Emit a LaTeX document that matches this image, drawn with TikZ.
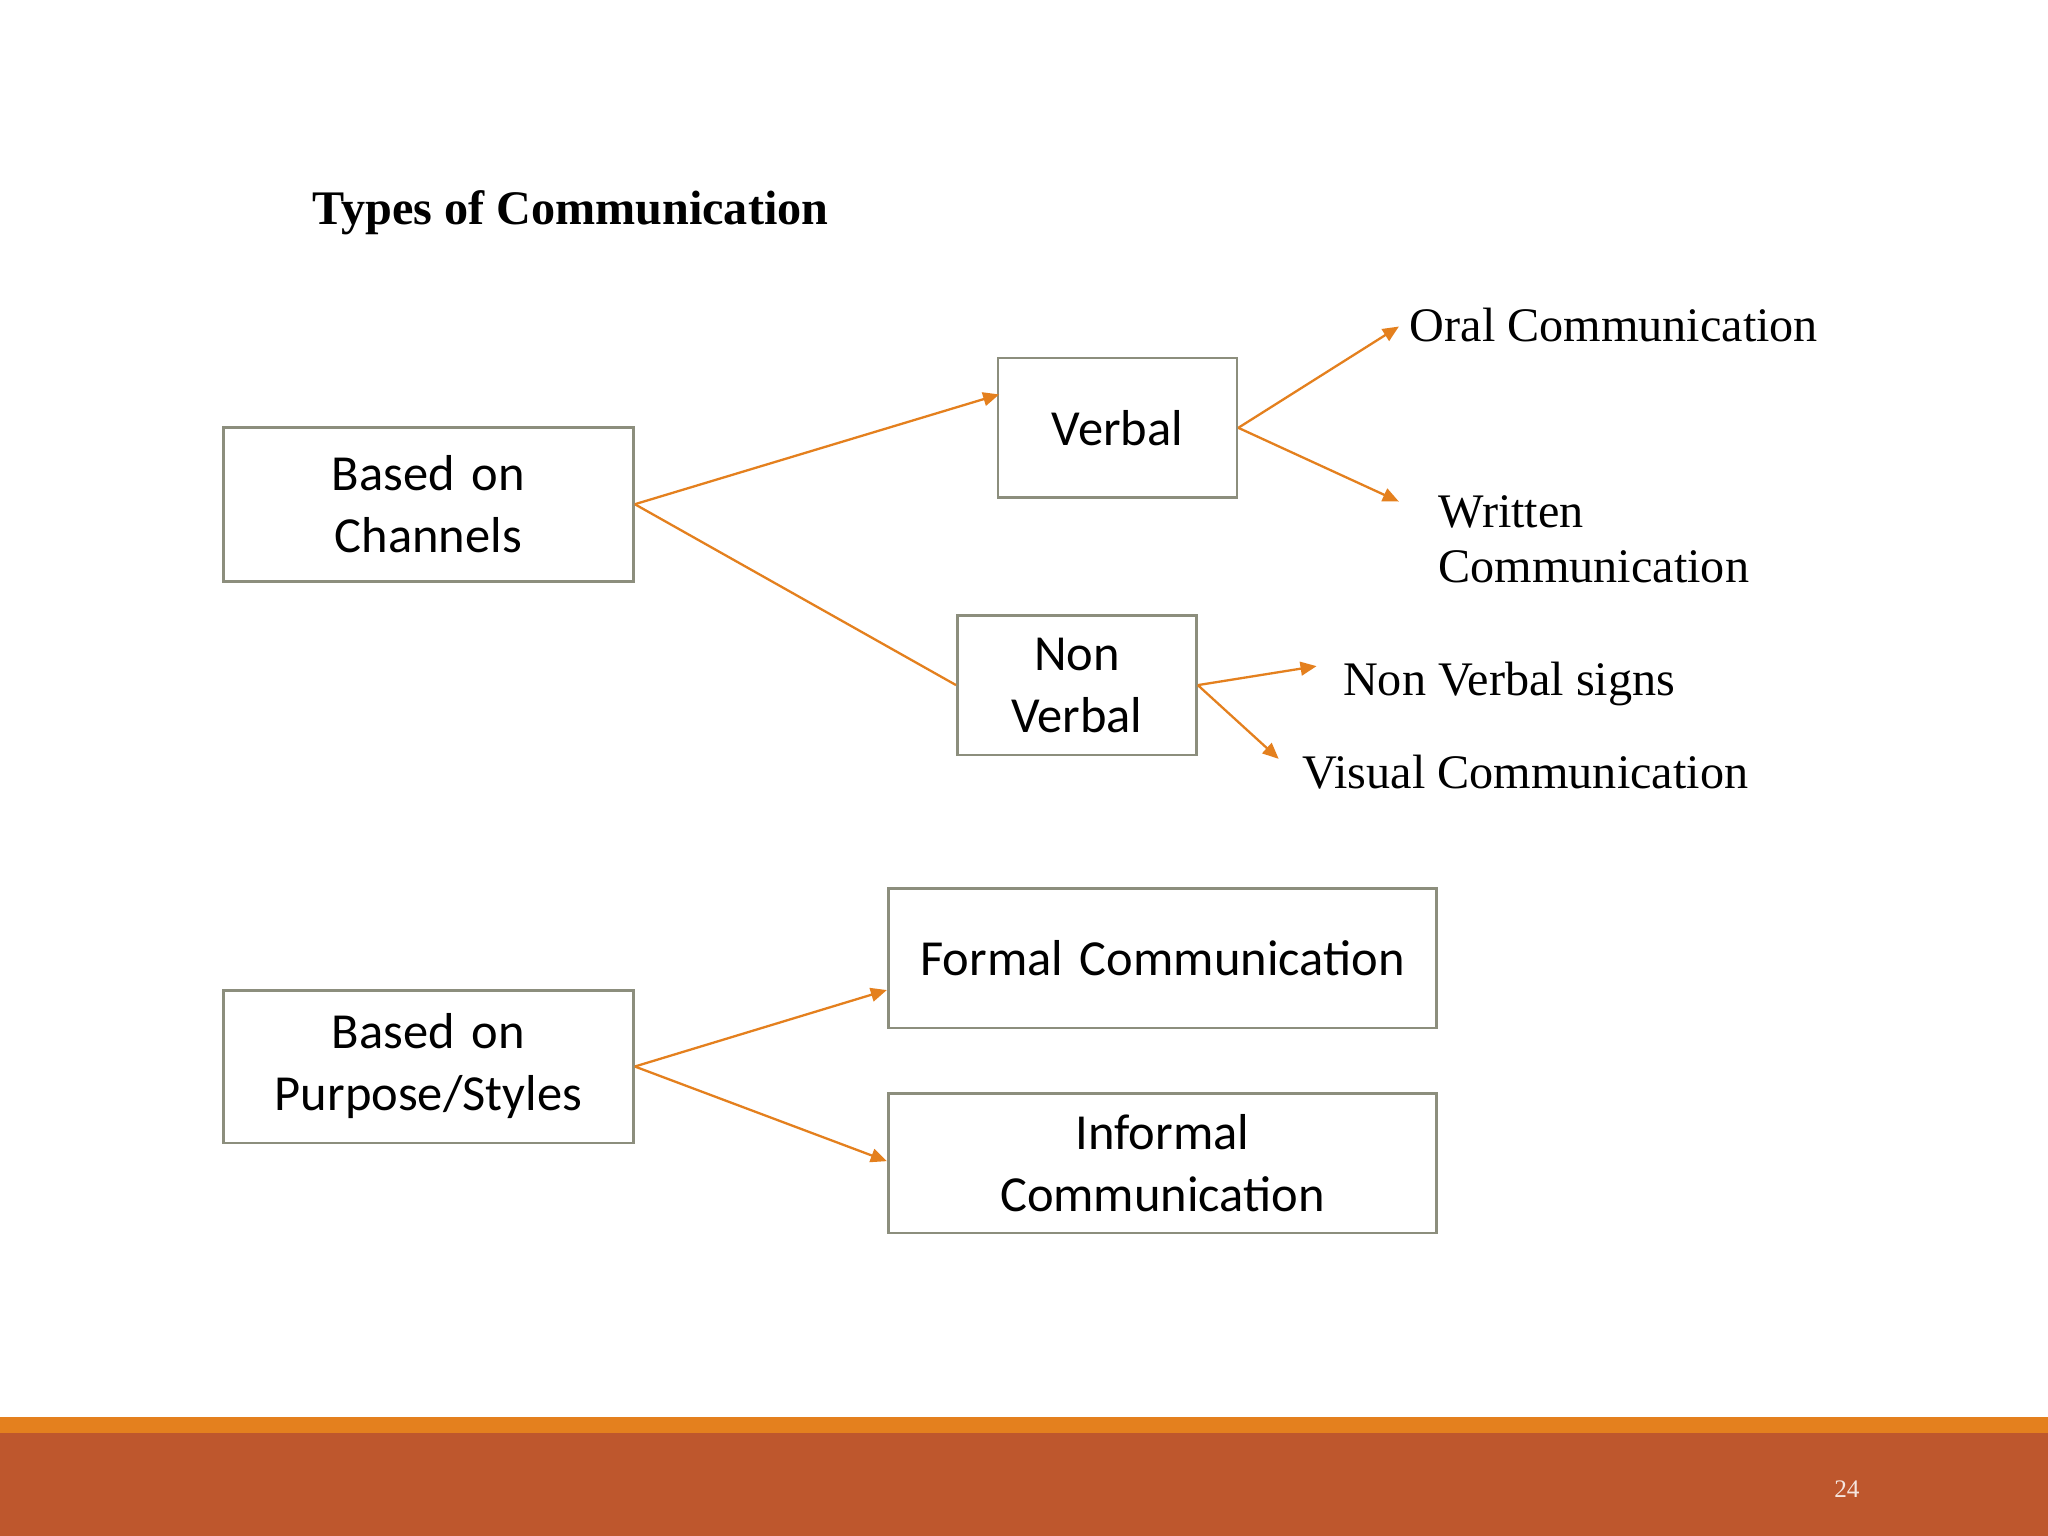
\documentclass[tikz,border=0pt]{standalone}
\usepackage{fontspec}
\setmainfont{Liberation Serif}
\newfontfamily\carl{Carlito}
\usetikzlibrary{arrows.meta}
\definecolor{bx}{RGB}{140,142,125}
\definecolor{ar}{RGB}{228,128,30}
\definecolor{rust}{RGB}{190,87,45}
\begin{document}
\begin{tikzpicture}[x=0.02cm,y=-0.02cm,
 box/.style={draw=bx,line width=1.2pt,anchor=north west,inner sep=0pt,align=center,font=\carl\fontsize{22}{27}\selectfont},
 lab/.style={anchor=west,inner sep=0pt,align=left,font=\fontsize{21}{27}\selectfont},
 con/.style={draw=ar,line width=1pt},
 arr/.style={con,-{Triangle[length=7pt,width=6pt]}}]
\fill[white] (0,0) rectangle (1568,1176);
\fill[ar] (0,1085) rectangle (1568,1097);
\fill[rust] (0,1097) rectangle (1568,1176);
\node[anchor=center,text=white!85!rust,font=\fontsize{11}{13}\selectfont] (pg) at (1414,1140) {24};
\node[lab,font=\bfseries\fontsize{21}{25}\selectfont] (title) at (239,163) {Types of Communication};
\node[box,text width=6.28cm,minimum height=2.36cm] (ch) at (170,326) {Based on\\Channels};
\node[box,text width=3.66cm,minimum height=2.14cm] (vb) at (763,273) {Verbal};
\node[box,text width=3.66cm,minimum height=2.14cm] (nv) at (732,470) {Non\\Verbal};
\node[box,text width=6.28cm,minimum height=2.34cm] (pu) at (170,757) {Based on\\Purpose/Styles};
\node[box,text width=8.4cm,minimum height=2.14cm] (fo) at (679,679) {Formal Communication};
\node[box,text width=8.4cm,minimum height=2.14cm] (in) at (679,836) {Informal\\Communication};
\node[lab] (oral) at (1079,249) {Oral Communication};
\node[lab,font=\fontsize{21}{24}\selectfont] (wr) at (1101,413) {Written\\Communication};
\node[lab] (nvs) at (1028,524) {Non Verbal signs};
\node[lab] (vis) at (997,591) {Visual Communication};
\coordinate (a1) at (765,302);
\coordinate (a2) at (1071,250);
\coordinate (a3) at (1071,384);
\coordinate (a4) at (1008,510);
\coordinate (a5) at (979,581);
\coordinate (a6) at (679,758);
\coordinate (a7) at (679,889);
\draw[arr] (ch.east) -- (a1);
\draw[con] (ch.east) -- (nv.west);
\draw[arr] (vb.east) -- (a2);
\draw[arr] (vb.east) -- (a3);
\draw[arr] (nv.east) -- (a4);
\draw[arr] (nv.east) -- (a5);
\draw[arr] (pu.east) -- (a6);
\draw[arr] (pu.east) -- (a7);
\end{tikzpicture}
\end{document}
